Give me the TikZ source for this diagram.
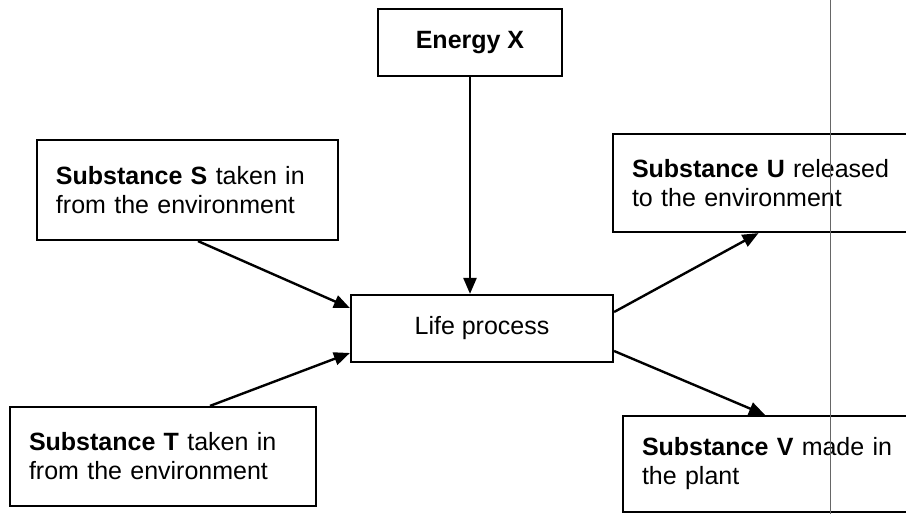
\documentclass[tikz,border=0pt]{standalone}
\usepackage{fontspec}
\setmainfont{Liberation Sans}
\usetikzlibrary{arrows.meta}
\begin{document}
\begin{tikzpicture}[x=1pt,y=-1pt,
  box/.style={draw, line width=2.2pt, rectangle, inner xsep=19pt, inner ysep=0pt,
    align=left, font=\fontsize{25}{29}\selectfont},
  cbox/.style={draw, line width=2.2pt, rectangle, inner sep=0pt, align=center,
    font=\fontsize{25}{29}\selectfont},
  conn/.style={line width=2.4pt, -{Triangle[length=16pt,width=13pt]}}]
\useasboundingbox (0,0) rectangle (906,514);
\fill[white] (0,0) rectangle (906,514);
\node[cbox, minimum width=184pt, minimum height=67pt] (energy) at (470,42.5) {\textbf{Energy X}};
\node[box, text width=263pt, minimum height=100pt] (s) at (187.5,190) {\textbf{Substance S} taken in\\from the environment};
\node[box, text width=261pt, minimum height=98pt] (u) at (762.5,183) {\textbf{Substance U} released\\to the environment};
\node[cbox, minimum width=262pt, minimum height=67pt] (life) at (482,328.5) {Life process};
\node[box, text width=268pt, minimum height=99pt] (t) at (163,456.5) {\textbf{Substance T} taken in\\from the environment};
\node[box, text width=251pt, minimum height=96pt] (v) at (767.5,464) {\textbf{Substance V} made in\\the plant};
\draw[conn] (energy.south) -- (energy.south |- life.north);
\draw[conn] ([xshift=10.5pt]s.south) -- ([yshift=20.5pt]life.west);
\draw[conn] ([xshift=47pt]t.north) -- ([yshift=-24.5pt]life.west);
\draw[conn] ([yshift=16.5pt]life.east) -- ([xshift=-4pt]u.south);
\draw[conn] ([yshift=-22.5pt]life.east) -- ([xshift=-2.5pt]v.north);
\draw[black!60, line width=0.8pt] (830,0) -- (830,514);
\end{tikzpicture}
\end{document}
